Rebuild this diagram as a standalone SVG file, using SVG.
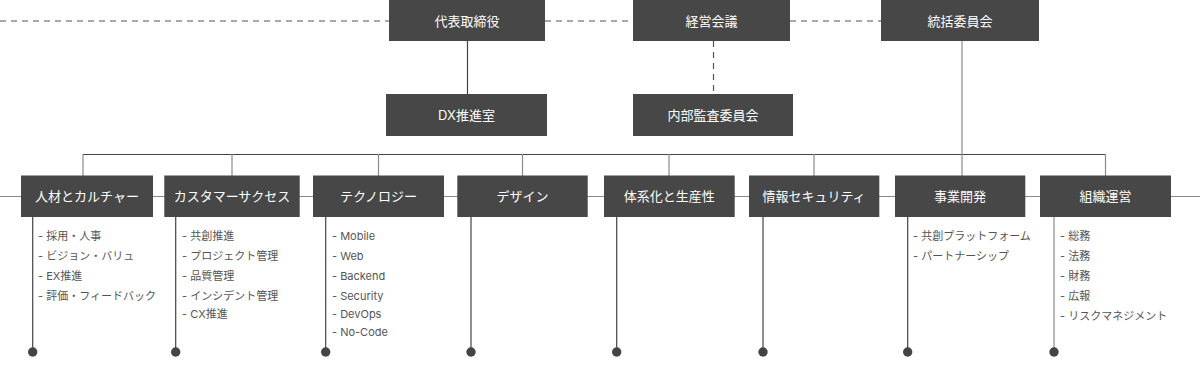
<svg xmlns="http://www.w3.org/2000/svg" width="1200" height="366" viewBox="0 0 1200 366">
<style>
.box{fill:#474747;}
.lbl{fill:#ffffff;font-family:Inter,"Noto Sans CJK JP",sans-serif;font-size:13px;text-anchor:middle;dominant-baseline:central;}
.item{fill:#555555;font-family:Inter,"Noto Sans CJK JP",sans-serif;font-size:11px;dominant-baseline:central;}
.solid{stroke:#444444;stroke-width:1.2;fill:none;}
.grey{stroke:#8a8a8a;stroke-width:1.2;fill:none;}
.dash{stroke:#555555;stroke-width:1.2;fill:none;stroke-dasharray:6 5;}
.dot{fill:#444444;}
</style>
<g id="connectors">
<line class="dash" x1="0" y1="21" x2="389" y2="21"/>
<line class="dash" x1="545" y1="21" x2="633" y2="21"/>
<line class="dash" x1="790" y1="21" x2="881" y2="21"/>
<line class="solid" x1="467.5" y1="41" x2="467.5" y2="94"/>
<line class="dash" x1="713.5" y1="41" x2="713.5" y2="94" stroke-dasharray="6 4"/>
<line class="grey" x1="962" y1="41" x2="962" y2="154"/>
<line class="solid" x1="83" y1="154.5" x2="1105.5" y2="154.5"/>
<line class="grey" x1="83" y1="154" x2="83" y2="176"/>
<line class="grey" x1="232" y1="154" x2="232" y2="176"/>
<line class="grey" x1="378.5" y1="154" x2="378.5" y2="176"/>
<line class="grey" x1="522.5" y1="154" x2="522.5" y2="176"/>
<line class="grey" x1="669" y1="154" x2="669" y2="176"/>
<line class="grey" x1="814" y1="154" x2="814" y2="176"/>
<line class="grey" x1="962" y1="154" x2="962" y2="176"/>
<line class="grey" x1="1105.5" y1="154" x2="1105.5" y2="176"/>
<line class="grey" x1="0" y1="196.5" x2="1200" y2="196.5"/>
<line class="solid" x1="32.7" y1="216" x2="32.7" y2="352"/>
<line class="solid" x1="175.7" y1="216" x2="175.7" y2="352"/>
<line class="solid" x1="325.7" y1="216" x2="325.7" y2="352"/>
<line class="solid" x1="471" y1="216" x2="471" y2="352"/>
<line class="solid" x1="616.7" y1="216" x2="616.7" y2="352"/>
<line class="solid" x1="763" y1="216" x2="763" y2="352"/>
<line class="solid" x1="907.7" y1="216" x2="907.7" y2="352"/>
<line class="grey" x1="1054" y1="216" x2="1054" y2="352"/>
<circle class="dot" cx="32.7" cy="352" r="4.7"/>
<circle class="dot" cx="175.7" cy="352" r="4.7"/>
<circle class="dot" cx="325.7" cy="352" r="4.7"/>
<circle class="dot" cx="471" cy="352" r="4.7"/>
<circle class="dot" cx="616.7" cy="352" r="4.7"/>
<circle class="dot" cx="763" cy="352" r="4.7"/>
<circle class="dot" cx="907.7" cy="352" r="4.7"/>
<circle class="dot" cx="1054" cy="352" r="4.7"/>
</g>
<g id="ceo"><rect class="box" x="389" y="0" width="156" height="41"/><text class="lbl" x="467" y="20.5">代表取締役</text></g>
<g id="mgmt"><rect class="box" x="633" y="0" width="157" height="41"/><text class="lbl" x="711.5" y="20.5">経営会議</text></g>
<g id="committee"><rect class="box" x="881" y="0" width="158" height="41"/><text class="lbl" x="960" y="20.5">統括委員会</text></g>
<g id="dx"><rect class="box" x="386" y="94" width="161" height="42"/><text class="lbl" x="466.5" y="115">DX推進室</text></g>
<g id="audit"><rect class="box" x="633" y="94" width="160" height="42"/><text class="lbl" x="713" y="115">内部監査委員会</text></g>
<g id="d1"><rect class="box" x="21" y="175.5" width="132" height="41.5"/><text class="lbl" x="87" y="196">人材とカルチャー</text>
<text class="item" x="38" y="235.7">- 採用・人事</text><text class="item" x="38" y="255.7">- ビジョン・バリュ</text><text class="item" x="38" y="275.7">- EX推進</text><text class="item" x="38" y="295.7">- 評価・フィードバック</text></g>
<g id="d2"><rect class="box" x="164.3" y="175.5" width="135.4" height="41.5"/><text class="lbl" x="232" y="196">カスタマーサクセス</text>
<text class="item" x="182" y="235.7">- 共創推進</text><text class="item" x="182" y="255.7">- プロジェクト管理</text><text class="item" x="182" y="275.7">- 品質管理</text><text class="item" x="182" y="295.7">- インシデント管理</text><text class="item" x="182" y="313.7">- CX推進</text></g>
<g id="d3"><rect class="box" x="313" y="175.5" width="131" height="41.5"/><text class="lbl" x="378.5" y="196">テクノロジー</text>
<text class="item" x="332" y="235.7">- Mobile</text><text class="item" x="332" y="255.7">- Web</text><text class="item" x="332" y="275.7">- Backend</text><text class="item" x="332" y="295.7">- Security</text><text class="item" x="332" y="313.7">- DevOps</text><text class="item" x="332" y="331.7">- No-Code</text></g>
<g id="d4"><rect class="box" x="457.3" y="175.5" width="130.4" height="41.5"/><text class="lbl" x="522.5" y="196">デザイン</text></g>
<g id="d5"><rect class="box" x="604" y="175.5" width="130.7" height="41.5"/><text class="lbl" x="669.3" y="196">体系化と生産性</text></g>
<g id="d6"><rect class="box" x="749" y="175.5" width="130.3" height="41.5"/><text class="lbl" x="814" y="196">情報セキュリティ</text></g>
<g id="d7"><rect class="box" x="895" y="175.5" width="130.3" height="41.5"/><text class="lbl" x="960" y="196">事業開発</text>
<text class="item" x="913" y="235.7">- 共創プラットフォーム</text><text class="item" x="913" y="255.7">- パートナーシップ</text></g>
<g id="d8"><rect class="box" x="1040" y="175.5" width="131" height="41.5"/><text class="lbl" x="1105.5" y="196">組織運営</text>
<text class="item" x="1060" y="235.7">- 総務</text><text class="item" x="1060" y="255.7">- 法務</text><text class="item" x="1060" y="275.7">- 財務</text><text class="item" x="1060" y="295.7">- 広報</text><text class="item" x="1060" y="315.7">- リスクマネジメント</text></g>
</svg>
